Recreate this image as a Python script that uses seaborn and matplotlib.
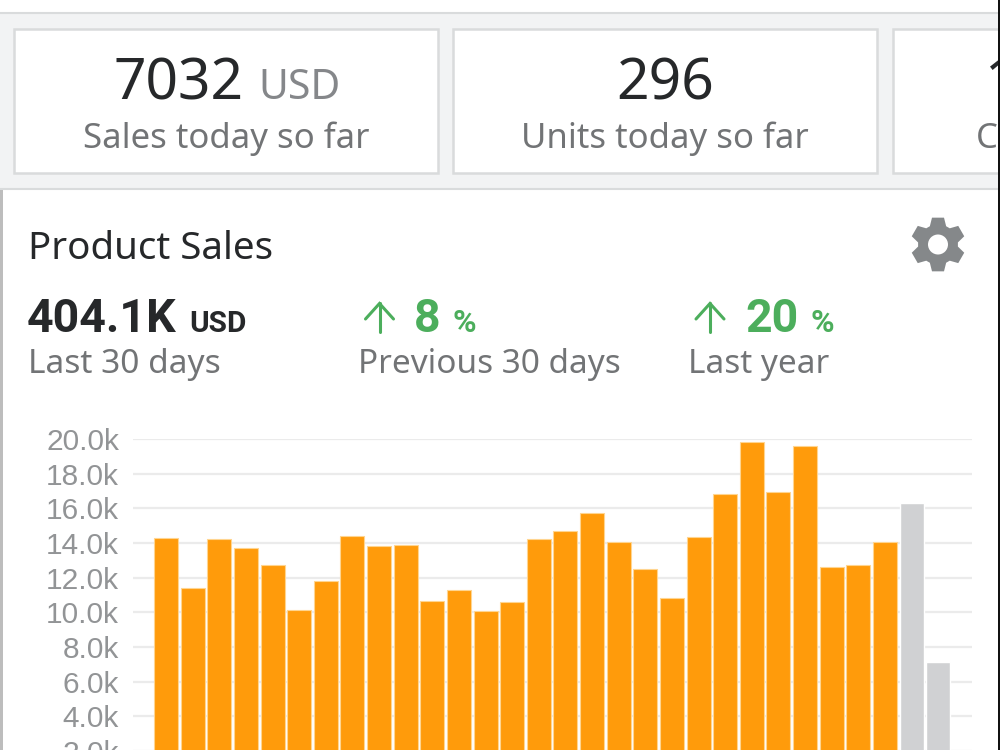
import numpy as np
import pandas as pd
import matplotlib
matplotlib.use("Agg")
import matplotlib.pyplot as plt
from matplotlib.lines import Line2D
from matplotlib.patches import Rectangle, Polygon, Circle
from matplotlib.ticker import FuncFormatter
import seaborn as sns

days = list(range(1, 31))
sales = [14300, 11400, 14200, 13700, 12700, 10150, 11800, 14400, 13850, 13900,
         10650, 11300, 10100, 10600, 14250, 14700, 15700, 14050, 12500, 10850,
         14350, 16800, 19850, 16950, 19600, 12600, 12750, 14050, 16300, 7100]
status = ["final"] * 28 + ["partial"] * 2
yticks = list(range(0, 20001, 2000))

W, H = 1000, 750
sns.set_theme(style="white")
plt.rcParams['font.family'] = ['Noto Sans', 'DejaVu Sans']
fig = plt.figure(figsize=(W / 100, H / 100), dpi=100, facecolor="white")


def fx(x):
    return x / W


def fy(y):
    return 1 - y / H


def rect(x0, y0, x1, y1, fc, ec="none", lw=0, z=0):
    fig.add_artist(Rectangle((fx(x0), fy(y1)), (x1 - x0) / W, (y1 - y0) / H,
                             transform=fig.transFigure, fc=fc, ec=ec, lw=lw, zorder=z))


def label(x, y, s, size, color, weight="normal", ha="left", family=None):
    kw = {"family": family} if family else {}
    fig.text(fx(x), fy(y), s, fontsize=size, color=color, fontweight=weight,
             ha=ha, va="baseline", zorder=5, **kw)


def up_arrow(xc, color):
    for xs, ys in [([xc, xc], [332, 303]), ([xc - 14, xc, xc + 14], [319, 303.5, 319])]:
        fig.add_artist(Line2D([fx(v) for v in xs], [fy(v) for v in ys], transform=fig.transFigure,
                              color=color, lw=2.2, zorder=5, solid_joinstyle="miter"))


DARK, GREY, TICK, GREEN = "#26282a", "#727476", "#929496", "#4cae5c"
BAND, BORDER = "#f2f3f4", "#d9dbdc"
BOLD = "Roboto"

rect(-5, 13, W + 5, 189, BAND, BORDER, 1.5, z=0)
rect(14, 29, 438, 173, "white", BORDER, 1.8, z=1)
rect(453, 29, 877, 173, "white", BORDER, 1.8, z=1)
rect(893, 29, 1010, 173, "white", BORDER, 1.8, z=1)
rect(0, 190, 2.5, H, "#bdbdbd", z=1)

label(113, 99, "7032", 41, DARK)
label(258, 99, "USD", 29.5, "#85878a")
label(226, 148, "Sales today so far", 25, GREY, ha="center")
label(665, 99, "296", 41, DARK, ha="center")
label(665, 148, "Units today so far", 25, GREY, ha="center")
label(976, 148, "C", 25, GREY)
label(985, 99, "1", 41, DARK)

label(28, 259, "Product Sales", 27.7, DARK)
label(27, 332, "404.1K", 33.5, DARK, weight="bold", family=BOLD)
label(189, 332, "USD", 21.5, DARK, weight="bold", family=BOLD)
label(28, 373, "Last 30 days", 24.1, GREY)
label(358, 373, "Previous 30 days", 24, GREY)
label(688, 373, "Last year", 24, GREY)
up_arrow(379.5, GREEN)
label(414, 332, "8", 33.5, GREEN, weight="bold", family=BOLD)
label(453, 332, "%", 23, GREEN, weight="bold", family=BOLD)
up_arrow(710, GREEN)
label(745, 332, "20", 33.5, GREEN, weight="bold", family=BOLD)
label(811, 332, "%", 23, GREEN, weight="bold", family=BOLD)

# settings gear, built from six teeth round the centre
cx, cy = 938, 244.5
angles = np.deg2rad(np.arange(0, 360, 60) + 90)
pts = []
for a in angles:
    for off, rad in [(-0.42, 20), (-0.22, 27.5), (0.22, 27.5), (0.42, 20)]:
        pts.append((fx(cx + rad * np.cos(a + off)), fy(cy - rad * np.sin(a + off))))
fig.add_artist(Polygon(pts, closed=True, transform=fig.transFigure, fc="#85888a", ec="none", zorder=3))
fig.add_artist(Circle((cx, H - cy), 10, transform=None, fc="white", ec="none", zorder=4))

# chart axes: the reference crops the chart below 2.0k
ax = fig.add_axes([fx(133), fy(785.5), (972 - 133) / W, (785.5 - 439) / H], facecolor="none", zorder=2)
df = pd.DataFrame({"day": days, "sales": sales, "status": status})
sns.barplot(data=df, x="day", y="sales", hue="status", dodge=False, legend=False,
            palette={"final": "#ff9b0b", "partial": "#d0d1d3"}, width=0.9,
            saturation=1, ax=ax, zorder=3)
for bar, st in zip(ax.patches, status):
    if st == "final":
        bar.set_edgecolor("#ffd590")
        bar.set_linewidth(0.8)
ax.set_xlim(-1.24, 30.27)
ax.set_ylim(0, 20000)
ax.set_yticks(yticks)
ax.yaxis.set_major_formatter(FuncFormatter(lambda v, _: f"{v / 1000:.1f}k"))
ax.set_xticks([])
ax.set_xlabel("")
ax.set_ylabel("")
ax.tick_params(axis="y", length=0, pad=10, labelsize=21.5)
for t in ax.get_yticklabels():
    t.set_family("Liberation Sans")
    t.set_color(TICK)
ax.grid(axis="y", color="#ebebeb", linewidth=1.6, zorder=0)
ax.set_axisbelow(True)
sns.despine(ax=ax, left=True, bottom=True)

rect(998, 0, W, H, "#111111", z=6)
fig.savefig("out.png", dpi=100, facecolor="white")
